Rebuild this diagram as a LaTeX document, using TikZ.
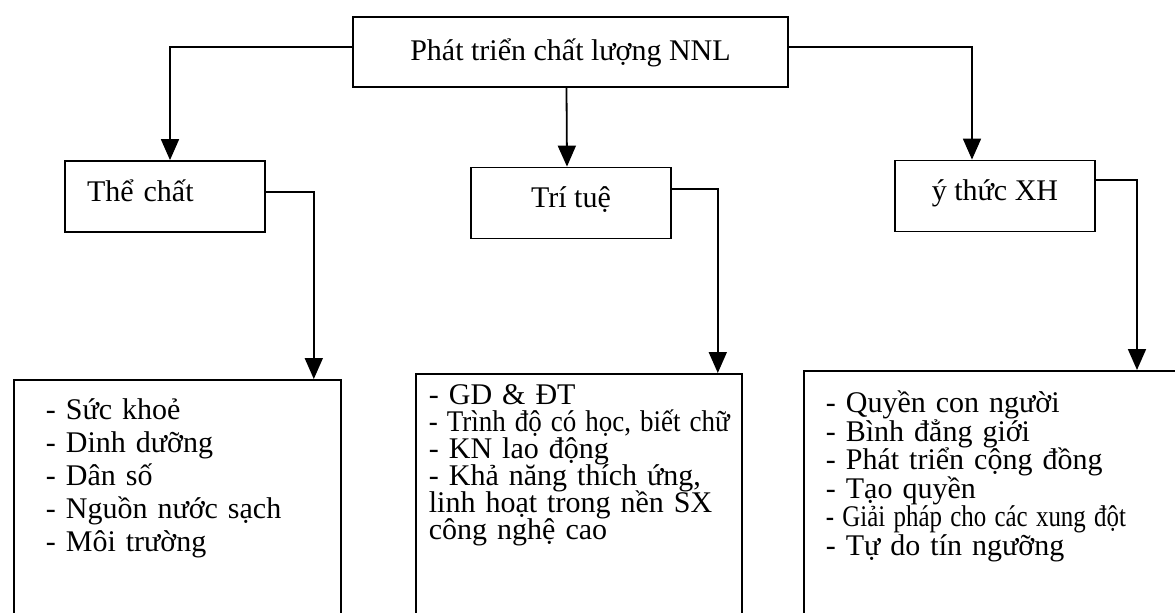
\documentclass[tikz,border=0pt]{standalone}
\usepackage{fontspec}
\setmainfont{Liberation Serif}
\usepackage{graphicx}
\usetikzlibrary{arrows.meta}

\newcommand{\spreadline}[1]{\makebox[150pt][s]{#1}}
\newcommand{\tightlines}{\lineskiplimit=-20pt\relax}

\tikzset{
	headbox/.style={draw, minimum width=217.5pt, inner ysep=0pt, text height=21.5pt, text depth=13.5pt},
	groupbox/.style={draw, minimum width=100pt, inner ysep=0pt, text height=20pt, text depth=15.5pt},
	listbox/.style={draw, anchor=north west, align=left, inner ysep=0pt, text depth=300pt},
	link/.style={->}
}

\begin{document}
\begin{tikzpicture}[x=0.5pt,y=-0.5pt,line width=0.9pt,>={Triangle[width=9pt,length=10.5pt]},font={\fontsize{15}{16.5}\selectfont\tightlines}]
	\useasboundingbox (0,0) rectangle (1175,612);
	\clip (0,0) rectangle (1175,612);
	
	\node[headbox]  (top)   at (570.5,52) {Phát triển chất lượng NNL};
	
	\node[groupbox, text width=78pt, align=left, inner xsep=11pt] (the) at (165,196.5) {Thể chất};
	\node[groupbox] (tri)   at (571,203)  {Trí tuệ};
	\node[groupbox] (ythuc) at (995,196)  {ý thức XH};
	
	\node[listbox, text width=131.5pt, inner xsep=16pt, text height=20pt] (suckhoe) at (13,379)
		{- Sức khoẻ\\- Dinh dưỡng\\- Dân số\\- Nguồn nước sạch\\- Môi trường};
	\node[listbox, text width=150pt, inner xsep=6.5pt, text height=15.5pt, font={\fontsize{15}{13.5}\selectfont\tightlines}] (gddt) at (415,373)
		{- GD \& ĐT\\\scalebox{0.9}[1]{- Trình độ có học, biết chữ}\\- KN lao động\\
		 \spreadline{- Khả năng thích ứng,}\\\spreadline{linh hoạt trong nền SX}\\công nghệ cao};
	\node[listbox, text width=200pt, inner xsep=11pt, text height=21pt, font={\fontsize{15}{14.25}\selectfont\tightlines}] (quyen) at (803,370)
		{- Quyền con người\\- Bình đẳng giới\\- Phát triển cộng đồng\\- Tạo quyền\\
		 \scalebox{0.83}[1]{- Giải pháp cho các xung đột}\\- Tự do tín ngưỡng};
	
	\draw[link] ([yshift=2.5pt]top.west) -| ([xshift=2.5pt]the.north);
	\draw[link] ([xshift=-2pt]top.south) -- ([xshift=-2pt]tri.north);
	\draw[link] ([yshift=2.5pt]top.east) -| ([xshift=-11.5pt]ythuc.north);
	
	\draw[link] ([yshift=2.25pt]the.east) -| ([xshift=-14pt]suckhoe.north east);
	\draw[link] ([yshift=7pt]tri.east) -| ([xshift=-12.5pt]gddt.north east);
	\draw[link] ([yshift=8pt]ythuc.east) -| ([xshift=167pt]quyen.north west);
\end{tikzpicture}
\end{document}
